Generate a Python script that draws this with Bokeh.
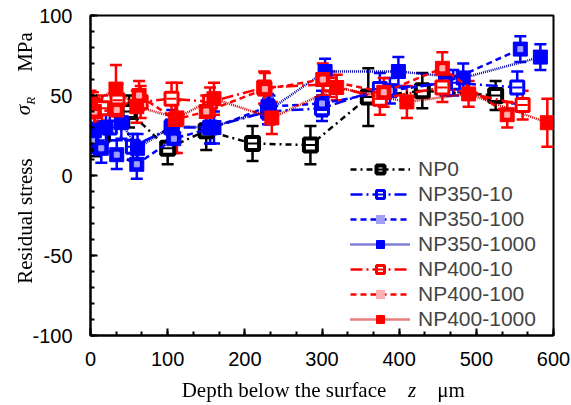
from bokeh.plotting import figure
from bokeh.models import (ColumnDataSource, Whisker, TeeHead, Legend, LegendItem,
                          Range1d, SingleIntervalTicker, Div)
from bokeh.layouts import column
from bokeh.embed import file_html
from bokeh.resources import INLINE

# ---------------- data ----------------
np0_z = [5, 15, 50, 100, 150, 210, 285, 360, 430, 525]
np0_s = [20, 25, 40, 17, 28, 20, 19, 49, 53, 50]
np0_e = [8, 7, 10, 10, 12, 11, 12, 18, 11, 9]

np350_10_z = [3, 12, 25, 55, 105, 155, 230, 300, 375, 470, 553]
np350_10_s = [25, 22, 30, 18, 30, 30, 40, 42, 54, 58, 55]
np350_10_e = [8, 8, 8, 8, 8, 10, 8, 8, 10, 8, 10]

np350_100_z = [2, 14, 34, 60, 108, 160, 230, 300, 388, 460, 557]
np350_100_s = [22, 17, 13, 7, 23, 30, 43, 45, 53, 58, 79]
np350_100_e = [8, 9, 9, 9, 9, 10, 8, 8, 8, 8, 8]

np350_1000_z = [5, 20, 40, 61, 106, 155, 232, 304, 399, 483, 583]
np350_1000_s = [28, 30, 33, 17, 31, 30, 41, 65, 65, 61, 74]
np350_1000_e = [8, 8, 10, 9, 10, 10, 9, 8, 9, 9, 8]

np400_10_z = [3, 15, 35, 65, 105, 155, 225, 310, 375, 456, 560]
np400_10_s = [44, 42, 47, 46, 48, 46, 55, 57, 48, 55, 44]
np400_10_e = [8, 8, 10, 10, 10, 9, 10, 8, 10, 9, 9]

np400_100_z = [5, 34, 63, 110, 150, 226, 301, 380, 456, 540]
np400_100_s = [40, 41, 50, 35, 40, 54, 60, 52, 67, 38]
np400_100_e = [8, 10, 9, 12, 10, 10, 10, 9, 10, 8]

np400_1000_z = [0, 33, 60, 112, 160, 235, 319, 410, 490, 592]
np400_1000_s = [45, 54, 43, 36, 48, 36, 55, 46, 51, 33]
np400_1000_e = [8, 15, 10, 22, 10, 10, 8, 10, 8, 15]

y_tick_labels = {-100: "-100", -50: "-50", 0: "0", 50: "50", 100: "100"}

BLUE = "#0000FF"
DBLUE = "#0000B0"
RED = "#FF0000"
DRED = "#D00000"

p = figure(width=571, height=405, output_backend="svg", toolbar_location=None,
           x_range=Range1d(0, 600), y_range=Range1d(-100, 100),
           min_border_left=90, min_border_right=18, min_border_top=15,
           min_border_bottom=70, margin=0)
p.background_fill_color = "white"
p.border_fill_color = "white"
p.outline_line_color = "black"
p.outline_line_width = 2
p.grid.visible = False

for ax in (p.xaxis[0], p.yaxis[0]):
    ax.axis_line_width = 2
    ax.axis_line_color = "black"
    ax.major_tick_in = 7
    ax.major_tick_out = 0
    ax.minor_tick_in = 4
    ax.minor_tick_out = 0
    ax.major_tick_line_width = 2
    ax.minor_tick_line_width = 2
    ax.major_tick_line_color = "black"
    ax.minor_tick_line_color = "black"
    ax.major_label_text_font = "Liberation Sans"
    ax.major_label_text_font_size = "20px"
    ax.major_label_text_color = "black"

p.xaxis.ticker = SingleIntervalTicker(interval=100, num_minor_ticks=3)
p.yaxis.ticker = SingleIntervalTicker(interval=50, num_minor_ticks=5)
p.yaxis.major_label_overrides = y_tick_labels
p.xaxis.major_label_standoff = 16
p.yaxis.major_label_standoff = 18

series = [
    ("NP0", np0_z, np0_s, np0_e, "black", "black", "dashdot", "open"),
    ("NP350-10", np350_10_z, np350_10_s, np350_10_e, BLUE, BLUE, "12 4 2 4", "open"),
    ("NP350-100", np350_100_z, np350_100_s, np350_100_e, BLUE, BLUE, "6 4", "dot"),
    ("NP350-1000", np350_1000_z, np350_1000_s, np350_1000_e, BLUE, DBLUE, "1 1", "solid"),
    ("NP400-10", np400_10_z, np400_10_s, np400_10_e, RED, RED, "12 4 2 4", "open"),
    ("NP400-100", np400_100_z, np400_100_s, np400_100_e, RED, RED, "6 4", "dot"),
    ("NP400-1000", np400_1000_z, np400_1000_s, np400_1000_e, RED, DRED, "1 1", "solid"),
]

items = []
for name, z, s, e, col, lcol, dash, mk in series:
    src = ColumnDataSource(dict(z=z, s=s, up=[a + b for a, b in zip(s, e)],
                                lo=[a - b for a, b in zip(s, e)]))
    w = Whisker(base="z", upper="up", lower="lo", source=src, dimension="height",
                line_color=col, line_width=2.5,
                upper_head=TeeHead(size=12, line_color=col, line_width=2.5),
                lower_head=TeeHead(size=12, line_color=col, line_width=2.5))
    p.add_layout(w)
    ln = p.line("z", "s", source=src, line_color=lcol, line_width=2.5, line_dash=dash)
    rs = [ln]
    if mk == "open":
        lw = 4 if col == "black" else 3
        sq = p.scatter("z", "s", source=src, marker="square", size=13,
                       fill_color="white", line_color=col, line_width=lw)
        da = p.scatter("z", "s", source=src, marker="dash", size=10,
                       line_color=col, line_width=2)
        rs += [sq, da]
    elif mk == "dot":
        sq = p.scatter("z", "s", source=src, marker="square", size=14,
                       fill_color=col, line_color=col)
        inner = "#A0A0FF" if col == BLUE else "#FFB0B0"
        dt = p.scatter("z", "s", source=src, marker="square", size=5,
                       fill_color=inner, line_color=inner)
        rs += [sq, dt]
    else:
        sq = p.scatter("z", "s", source=src, marker="square", size=14,
                       fill_color=col, line_color=col)
        rs += [sq]
    items.append(LegendItem(label=name, renderers=rs))

legend = Legend(items=items, location=(258, 2), background_fill_alpha=0,
                border_line_alpha=0, label_text_font="Liberation Sans",
                label_text_font_size="21px", glyph_width=60, glyph_height=20,
                label_height=20, spacing=1, padding=2, margin=0,
                label_standoff=8)
p.add_layout(legend)

# ---------------- axis titles (real HTML text, italic symbols) ----------------
FONT = ("font-family:'Liberation Serif',serif;font-size:21px;color:black;"
        "white-space:nowrap;line-height:1;z-index:10;")

def rot(cx, cy, html):
    return (f"<div style=\"position:fixed;left:{cx}px;top:{cy}px;{FONT}"
            f"transform:translate(-50%,-50%) rotate(-90deg);\">{html}</div>")

def hor(cx, cy, html):
    return (f"<div style=\"position:fixed;left:{cx}px;top:{cy}px;{FONT}"
            f"transform:translate(-50%,-50%);\">{html}</div>")

titles = (rot(25, 221, "Residual stress")
          + rot(25, 106, "<i>σ<sub style=\"font-size:13px\">R</sub></i>")
          + rot(25, 52, "MPa")
          + hor(284, 390, "Depth below the surface")
          + hor(412, 390, "<i>z</i>")
          + hor(451, 390, "μm"))

tdiv = Div(text=titles, width=571, height=0, margin=0)

layout = column(p, tdiv, margin=0, spacing=0)

open("out.html", "w").write(file_html(layout, INLINE))
